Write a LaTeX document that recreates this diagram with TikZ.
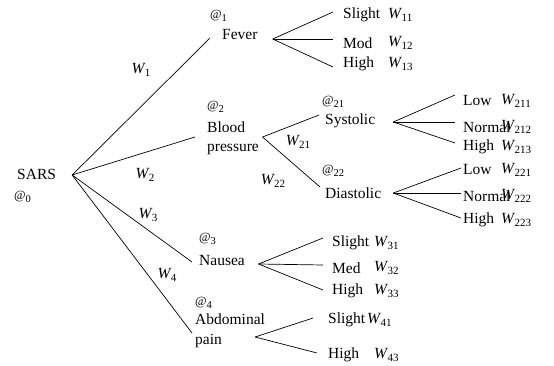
\documentclass[tikz,border=0pt]{standalone}
\usepackage{fontspec}
\setmainfont{Liberation Serif}
\newcommand{\Wlab}[1]{\textit{W}\kern-0.6pt\raisebox{-0.35ex}{\fontsize{11}{11}\selectfont #1}}
\newcommand{\Alab}[1]{{\fontsize{12.5}{12.5}\selectfont @}\raisebox{-0.35ex}{\fontsize{10.5}{10.5}\selectfont #1}}
\begin{document}
\begin{tikzpicture}[x=1pt,y=-1pt,
  every node/.style={inner sep=0pt, font=\fontsize{15.5}{18.5}\selectfont},
  txt/.style={anchor=west},
  wl/.style={anchor=west},
  al/.style={anchor=west},
  edge/.style={line width=0.7pt, black}]
\useasboundingbox (0,0) rectangle (554,366);
% level 0
\node[txt] (sars) at (17,174) {SARS};
\node[al] (a0) at (14,197) {\Alab{0}};
% level 1
\node[al] (a1) at (210,16) {\Alab{1}};
\node[txt] (fever) at (222,35) {Fever};
\node[al] (a2) at (207,107) {\Alab{2}};
\node[txt, align=left, font=\fontsize{15.5}{19}\selectfont] (blood) at (207,138.5) {Blood\\pressure};
\node[al] (a3) at (199,239) {\Alab{3}};
\node[txt] (nausea) at (199,261) {Nausea};
\node[al] (a4) at (195,303) {\Alab{4}};
\node[txt, align=left, font=\fontsize{15.5}{20}\selectfont] (abdo) at (195,331) {Abdominal\\pain};
% weights level 1
\node (w1) at (141,70) {\Wlab{1}};
\node (w2) at (145,175) {\Wlab{2}};
\node (w3) at (148,215) {\Wlab{3}};
\node (w4) at (167,275) {\Wlab{4}};
% fever children
\node[txt] (slight1) at (343,15) {Slight};
\node[txt] (mod1) at (343,43) {Mod};
\node[txt] (high1) at (343,64) {High};
\node[wl] (w11) at (388,15) {\Wlab{11}};
\node[wl] (w12) at (388,43) {\Wlab{12}};
\node[wl] (w13) at (388,64) {\Wlab{13}};
% blood pressure children
\node[al] (a21) at (322,102) {\Alab{21}};
\node[txt] (systolic) at (325,121) {Systolic};
\node[al] (a22) at (322,171) {\Alab{22}};
\node[txt] (diastolic) at (325,193) {Diastolic};
\node (w21) at (298,142) {\Wlab{21}};
\node (w22) at (273,181) {\Wlab{22}};
\node[txt] (low1) at (463,101) {Low};
\node[txt] (normal1) at (463,127) {Normal};
\node[txt] (high2) at (463,147) {High};
\node[wl] (w211) at (501,101) {\Wlab{211}};
\node[wl] (w212) at (501,127) {\Wlab{212}};
\node[wl] (w213) at (501,147) {\Wlab{213}};
\node[txt] (low2) at (463,170) {Low};
\node[txt] (normal2) at (463,196) {Normal};
\node[txt] (high3) at (463,220) {High};
\node[wl] (w221) at (501,170) {\Wlab{221}};
\node[wl] (w222) at (501,196) {\Wlab{222}};
\node[wl] (w223) at (501,220) {\Wlab{223}};
% nausea children
\node[txt] (slight3) at (332,243) {Slight};
\node[txt] (med3) at (332,268) {Med};
\node[txt] (high4) at (332,291) {High};
\node[wl] (w31) at (374,243) {\Wlab{31}};
\node[wl] (w32) at (374,268) {\Wlab{32}};
\node[wl] (w33) at (374,291) {\Wlab{33}};
% abdominal children
\node[txt] (slight4) at (328,320) {Slight};
\node[txt] (high5) at (328,355) {High};
\node[wl] (w41) at (367,320) {\Wlab{41}};
\node[wl] (w43) at (374,355) {\Wlab{43}};
% connectors
\draw[edge] ([shift={(16,1)}]sars.east) -- ([shift={(-12,3)}]fever.west);
\draw[edge] ([shift={(16,1)}]sars.east) -- ([shift={(-12,-1.5)}]blood.west);
\draw[edge] ([shift={(16,1)}]sars.east) -- ([shift={(-7,1)}]nausea.west);
\draw[edge] ([shift={(16,1)}]sars.east) -- ([shift={(-3,2)}]abdo.west);
\draw[edge] ([shift={(15,4)}]fever.east) -- ([shift={(-10,-3)}]slight1.west);
\draw[edge] ([shift={(15,4)}]fever.east) -- ([shift={(-10,-4)}]mod1.west);
\draw[edge] ([shift={(15,4)}]fever.east) -- ([shift={(-10,3)}]high1.west);
\draw[edge] ([shift={(3.5,-1.5)}]blood.east) -- ([shift={(-6,-6)}]systolic.west);
\draw[edge] ([shift={(3.5,-1.5)}]blood.east) -- ([shift={(-5,-6)}]diastolic.west);
\draw[edge] ([shift={(18,1)}]systolic.east) -- ([shift={(-8,-6)}]low1.west);
\draw[edge] ([shift={(18,1)}]systolic.east) -- ([shift={(-8,-5)}]normal1.west);
\draw[edge] ([shift={(18,1)}]systolic.east) -- ([shift={(-8,-4)}]high2.west);
\draw[edge] ([shift={(12,0)}]diastolic.east) -- ([shift={(-2,-2)}]low2.west);
\draw[edge] ([shift={(12,0)}]diastolic.east) -- ([shift={(-2,-3)}]normal2.west);
\draw[edge] ([shift={(12,0)}]diastolic.east) -- ([shift={(-2,-2)}]high3.west);
\draw[edge] ([shift={(13.5,3)}]nausea.east) -- ([shift={(-9,-5)}]slight3.west);
\draw[edge] ([shift={(13.5,3)}]nausea.east) -- ([shift={(-9,-3)}]med3.west);
\draw[edge] ([shift={(13.5,3)}]nausea.east) -- ([shift={(-9,-1)}]high4.west);
\draw[edge] ([shift={(-10,6)}]abdo.east) -- ([shift={(-15,-2)}]slight4.west);
\draw[edge] ([shift={(-10,6)}]abdo.east) -- ([shift={(-11,-2)}]high5.west);
\end{tikzpicture}
\end{document}
